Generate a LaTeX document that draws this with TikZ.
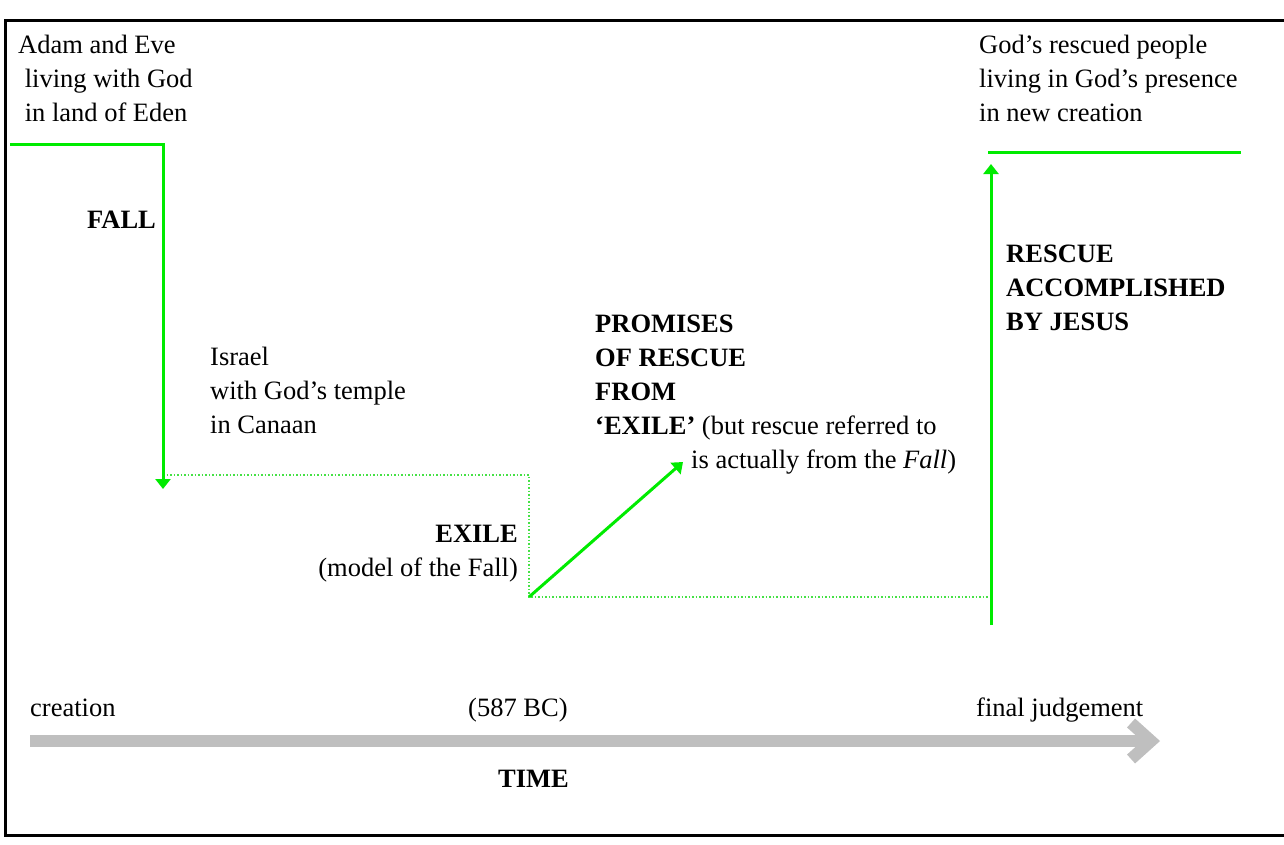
\documentclass[tikz,border=0pt]{standalone}
\usepackage{fontspec}
\setmainfont{Liberation Serif}
\usetikzlibrary{arrows.meta}
\definecolor{lgreen}{RGB}{0,235,0}
\definecolor{dgreen}{RGB}{70,225,70}
\definecolor{tgray}{RGB}{191,191,191}
\newcommand{\bigfont}{\fontsize{26.5}{34}\selectfont}
\begin{document}
\begin{tikzpicture}[x=1pt,y=-1pt,
  txt/.style={inner sep=0pt, font=\bigfont, anchor=base west},
  txtr/.style={inner sep=0pt, font=\bigfont, anchor=base east},
  gline/.style={draw=lgreen, line width=3pt},
  garrow/.style={gline, -{Triangle[length=10pt,width=15pt]}},
  dline/.style={draw=dgreen, line width=1.5pt, dash pattern=on 1.5pt off 2pt},
  frame/.style={draw=black, line width=3pt},
  timeline/.style={draw=tgray, line width=12pt, -{Straight Barb[length=20pt,width=36pt]}}
]
\useasboundingbox (0,0) rectangle (1284,844);
\draw[frame] (1290,20) -- (5,20) -- (5,835) -- (1290,835);

\node[txt] (adam) at (18,53) {\begin{tabular}[t]{@{}l@{}}Adam and Eve\\\hspace*{6.6pt}living with God\\\hspace*{6.6pt}in land of Eden\end{tabular}};
\node[txt] (fall) at (87,228) {\textbf{FALL}};
\node[txt] (israel) at (210,365) {\begin{tabular}[t]{@{}l@{}}Israel\\with God’s temple\\in Canaan\end{tabular}};
\node[txtr] (exile) at (518,542) {\begin{tabular}[t]{@{}r@{}}\textbf{EXILE}\\(model of the Fall)\end{tabular}};
\node[txt] (prom) at (595,332) {\begin{tabular}[t]{@{}l@{}}\textbf{PROMISES}\\\textbf{OF RESCUE}\\\textbf{FROM}\\\textbf{‘EXILE’} (but rescue referred to\\\hspace*{96pt}is actually from the \textit{Fall})\end{tabular}};
\node[txt] (rescue) at (1006,262) {\begin{tabular}[t]{@{}l@{}}\textbf{RESCUE}\\\textbf{ACCOMPLISHED}\\\textbf{BY JESUS}\end{tabular}};
\node[txt] (gods) at (979,53) {\begin{tabular}[t]{@{}l@{}}God’s rescued people\\living in God’s presence\\in new creation\end{tabular}};
\node[txt] (creation) at (30,716) {creation};
\node[txt] (bc) at (468,716) {(587 BC)};
\node[txt] (final) at (976,716) {final judgement};
\node[txt] (time) at (498,787) {\textbf{TIME}};

\coordinate (e0) at (10,144);
\coordinate (e1) at (163,144);
\coordinate (e2) at (163,489);
\coordinate (d0) at (163,475);
\coordinate (d1) at (529,475);
\coordinate (d2) at (529,597);
\coordinate (d3) at (988,597);
\coordinate (p1) at (683,462);
\coordinate (r0) at (991,625);
\coordinate (r1) at (991,164);
\coordinate (n0) at (988,152);
\coordinate (n1) at (1241,152);
\coordinate (t0) at (30,741);
\coordinate (t1) at (1160,741);

\draw[dline] (d0) -- (d1) -- (d2) -- (d3);
\draw[garrow] (e0) -- (e1) -- (e2);
\draw[garrow] (d2) -- (p1);
\draw[garrow] (r0) -- (r1);
\draw[gline] (n0) -- (n1);
\draw[timeline] (t0) -- (t1);
\end{tikzpicture}
\end{document}
